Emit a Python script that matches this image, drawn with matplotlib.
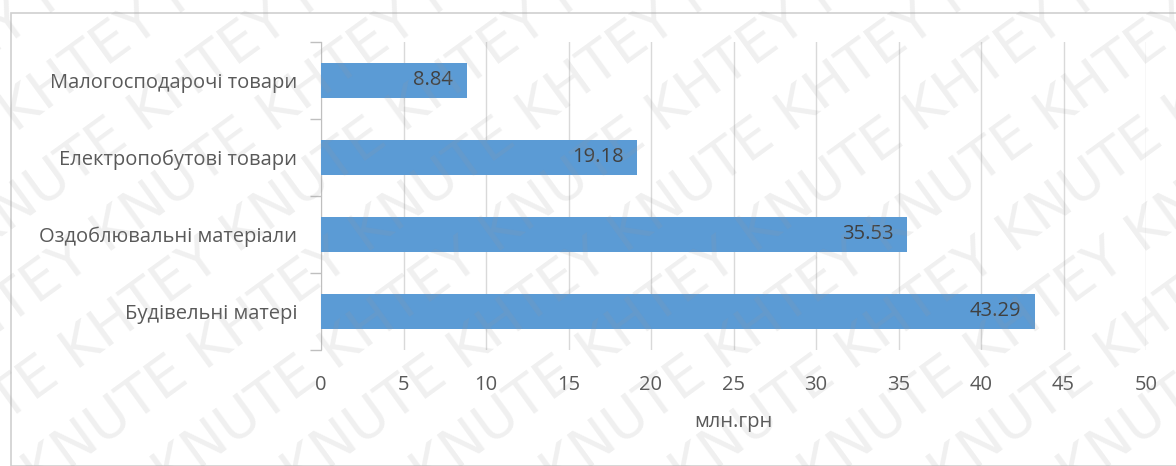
import matplotlib
matplotlib.use("Agg")
import matplotlib.pyplot as plt
from matplotlib.patches import Rectangle

categories = ["Будівельні матері", "Оздоблювальні матеріали",
              "Електропобутові товари", "Малогосподарочі товари"]
values = [43.29, 35.53, 19.18, 8.84]
x_ticks = [0, 5, 10, 15, 20, 25, 30, 35, 40, 45, 50]
x_label = "млн.грн"
watermark = "KHTEY KNUTE"

FONT = ["Open Sans", "DejaVu Sans"]
BAR = "#5b9bd5"
GRID = "#d9d9d9"
TXT = "#595959"

W, H = 1176, 466
fig = plt.figure(figsize=(W / 100, H / 100), dpi=100)

# chart frame
fig.patches.append(Rectangle((11 / W, 0), 1.2, 1 - 13 / H, transform=fig.transFigure,
                             fill=False, edgecolor="#d0d0d0", linewidth=1.2, zorder=0))

ax = fig.add_axes([321 / W, 1 - 350 / H, (1146 - 321) / W, (350 - 42) / H])
y = range(len(categories))
ax.barh(y, values, height=0.46, color=BAR, zorder=3)
for yi, v in zip(y, values):
    ax.text(v - 0.85, yi, f"{v:.2f}", ha="right", va="center", color="#404040",
            fontsize=14.5, family=FONT, zorder=4)

ax.set_xlim(0, 50)
ax.set_ylim(-0.5, len(categories) - 0.5)
ax.set_xticks(x_ticks)
ax.set_xticklabels([str(t) for t in x_ticks], family=FONT, fontsize=14.5, color=TXT)
ax.tick_params(axis="x", length=0, pad=18)
ax.set_yticks(list(y))
ax.set_yticklabels(categories, family=FONT, fontsize=14.5, color=TXT)
ax.tick_params(axis="y", length=0, pad=17)
# category boundary tick marks
ax.set_yticks([i - 0.5 for i in range(len(categories) + 1)], minor=True)
ax.tick_params(axis="y", which="minor", length=8, color="#bfbfbf", width=1)
ax.grid(axis="x", color=GRID, linewidth=1, zorder=0)
for s in ["top", "right", "bottom"]:
    ax.spines[s].set_visible(False)
ax.spines["left"].set_color("#bfbfbf")
ax.set_xlabel(x_label, family=FONT, fontsize=14.5, color=TXT, labelpad=12)

# repeated diagonal watermark, clipped to the figure
clip = Rectangle((0, 0), 1, 1, transform=fig.transFigure, visible=False)
fig.patches.append(clip)
row = (" " + watermark) * 10
for k in range(-10, 12):
    t = fig.text(k * 0.11, -0.35, row, rotation=36, rotation_mode="anchor",
                 fontsize=40, color="#9a9a9a", alpha=0.15, family=["DejaVu Sans"],
                 ha="left", va="bottom", zorder=10)
    t.set_clip_path(clip)

fig.savefig("out.png", dpi=100)
